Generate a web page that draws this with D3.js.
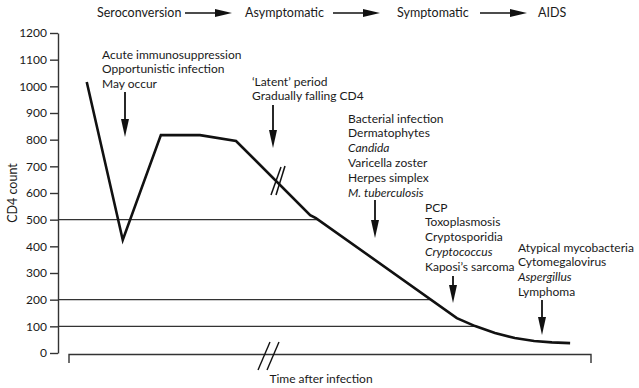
<!DOCTYPE html>
<html>
<head>
<meta charset="utf-8">
<script src="https://cdn.jsdelivr.net/npm/d3@7"></script>
<style>
  html, body { margin: 0; padding: 0; background: #fff; }
  svg { display: block; }
  text { font-family: "Gill Sans", "Lato", "Open Sans", sans-serif; fill: #1a1a1a; }
</style>
</head>
<body>
<svg id="chart" width="639" height="388"></svg>
<script>
// CD4 count over the course of HIV infection (time axis is schematic)
const time = [3.4, 10.3, 17.6, 25.1, 32.0, 46.2, 47.3, 74.3, 77.8, 81.6, 85.4, 89.1, 92.5, 96.0];
const cd4  = [1016, 424, 817, 817, 795, 517, 506, 131, 101, 75, 56, 45, 40, 37];

const yTicks = [0, 100, 200, 300, 400, 500, 600, 700, 800, 900, 1000, 1100, 1200];
const thresholds = [500, 200, 100];

const stages = ["Seroconversion", "Asymptomatic", "Symptomatic", "AIDS"];

const notes = [
  [{t: "Acute immunosuppression"}, {t: "Opportunistic infection"}, {t: "May occur"}],
  [{t: "\u2018Latent\u2019 period"}, {t: "Gradually falling CD4"}],
  [{t: "Bacterial infection"}, {t: "Dermatophytes"}, {t: "Candida", i: true},
   {t: "Varicella zoster"}, {t: "Herpes simplex"}, {t: "M. tuberculosis", i: true}],
  [{t: "PCP"}, {t: "Toxoplasmosis"}, {t: "Cryptosporidia"}, {t: "Cryptococcus", i: true},
   {t: "Kaposi\u2019s sarcoma"}],
  [{t: "Atypical mycobacteria"}, {t: "Cytomegalovirus"}, {t: "Aspergillus", i: true}, {t: "Lymphoma"}]
];

// layout: text block origin, arrow x and vertical extent (pixels)
const noteLayout = [
  {x: 102, y: 54,  ax: 125, a0: 92,  a1: 137},
  {x: 252, y: 81,  ax: 273, a0: 105, a1: 148},
  {x: 348, y: 118, ax: 375, a0: 200, a1: 238},
  {x: 425, y: 207, ax: 453, a0: 276, a1: 303},
  {x: 518, y: 247, ax: 542, a0: 300, a1: 335}
];
const stageLayout = [
  {x: 97}, {x: 245}, {x: 397}, {x: 538}
];

const svg = d3.select("#chart");
const x = d3.scaleLinear().domain([0, 100]).range([69, 591]);
const y = d3.scaleLinear().domain([0, 1200]).range([353, 33]);
const axisX = 58;

// y axis
const yAxis = svg.append("g")
  .attr("transform", `translate(${axisX},0)`)
  .call(d3.axisLeft(y).tickValues(yTicks).tickFormat(d3.format("d"))
    .tickSize(8).tickPadding(3).tickSizeOuter(0));
yAxis.select(".domain").attr("stroke", "#333").attr("stroke-width", 1.4);
yAxis.selectAll(".tick line").attr("stroke", "#333").attr("stroke-width", 1.4);
yAxis.selectAll(".tick text")
  .style("font-family", '"Gill Sans", "Lato", sans-serif')
  .attr("font-size", 12).attr("fill", "#1a1a1a");

svg.append("text")
  .attr("transform", `translate(14,${193}) rotate(-90)`)
  .attr("text-anchor", "middle").attr("dominant-baseline", "middle")
  .attr("font-size", 12.5).text("CD4 count");

// threshold lines run from the axis to where the curve crosses them
function crossing(v) {
  for (let k = time.length - 1; k > 0; k--) {
    const a = cd4[k - 1], b = cd4[k];
    if ((a - v) * (b - v) <= 0 && a !== b) {
      return time[k - 1] + (v - a) / (b - a) * (time[k] - time[k - 1]);
    }
  }
  return 100;
}
svg.append("g").selectAll("line").data(thresholds).join("line")
  .attr("x1", axisX).attr("x2", d => x(crossing(d)))
  .attr("y1", d => y(d)).attr("y2", d => y(d))
  .attr("stroke", "#333").attr("stroke-width", 1.3);

// CD4 curve
const line = d3.line().x((d, i) => x(time[i])).y(d => y(d));
svg.append("path").datum(cd4)
  .attr("d", line).attr("fill", "none")
  .attr("stroke", "#111").attr("stroke-width", 2.6)
  .attr("stroke-linejoin", "miter");

// break marks on the curve
const brk = svg.append("g").attr("stroke", "#111").attr("stroke-width", 1.5);
[[271, 195, 281, 167], [276, 195, 285, 166]].forEach(p =>
  brk.append("line").attr("x1", p[0]).attr("y1", p[1]).attr("x2", p[2]).attr("y2", p[3]));

// time axis (bracket style) with break marks
const tAxis = svg.append("g").attr("stroke", "#333").attr("stroke-width", 1.4).attr("fill", "none");
tAxis.append("path")
  .attr("d", `M${x(0)},363 V354.5 H${x(100)} V363`);
[[258, 370, 270, 342], [267, 370, 279, 342]].forEach(p =>
  tAxis.append("line").attr("x1", p[0]).attr("y1", p[1]).attr("x2", p[2]).attr("y2", p[3])
    .attr("stroke", "#111"));
svg.append("text").attr("x", 321).attr("y", 383).attr("text-anchor", "middle")
  .attr("font-size", 12).text("Time after infection");

// stage header with arrows
const head = svg.append("g");
stages.forEach((s, i) => {
  head.append("text").attr("x", stageLayout[i].x).attr("y", 17)
    .attr("font-size", 12.5).text(s);
});
function arrowRight(x0, x1, yy) {
  head.append("line").attr("x1", x0).attr("x2", x1 - 14).attr("y1", yy).attr("y2", yy)
    .attr("stroke", "#111").attr("stroke-width", 1.6);
  head.append("path").attr("d", `M${x1 - 17},${yy - 4} L${x1},${yy} L${x1 - 17},${yy + 4} Z`)
    .attr("fill", "#111");
}
arrowRight(185, 232, 13);
arrowRight(333, 380, 13);
arrowRight(480, 527, 13);

// annotations with downward arrows
const ann = svg.append("g");
notes.forEach((lines, k) => {
  const L = noteLayout[k];
  lines.forEach((ln, j) => {
    ann.append("text").attr("x", L.x).attr("y", L.y + j * 14.8 + 4.5)
      .attr("font-size", 12).attr("font-style", ln.i ? "italic" : "normal")
      .text(ln.t);
  });
  ann.append("line").attr("x1", L.ax).attr("x2", L.ax).attr("y1", L.a0).attr("y2", L.a1 - 14)
    .attr("stroke", "#111").attr("stroke-width", 1.8);
  ann.append("path").attr("d", `M${L.ax - 4},${L.a1 - 18} L${L.ax},${L.a1} L${L.ax + 4},${L.a1 - 18} Z`)
    .attr("fill", "#111");
});
</script>
</body>
</html>
